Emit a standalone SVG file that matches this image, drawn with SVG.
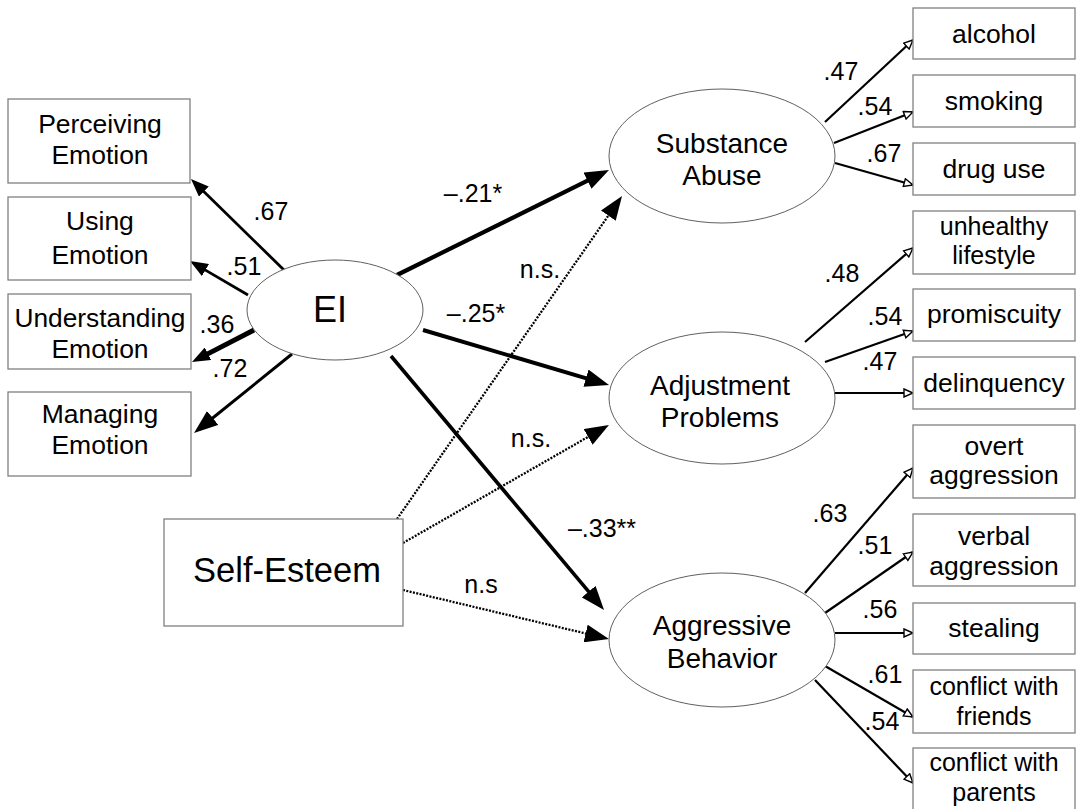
<svg xmlns="http://www.w3.org/2000/svg" width="1076" height="809" viewBox="0 0 1076 809">
<style>
text{font-family:"Liberation Sans",Arial,sans-serif;fill:#000;text-anchor:middle}
.box{fill:#fff;stroke:#808080;stroke-width:1.3}
.ell{fill:#fff;stroke:#606060;stroke-width:1}
.t{font-size:26.5px}
.t2{font-size:25px}
.lat{font-size:28px}
.lbl{font-size:25px}
.c{fill:none;stroke:#000}
.thin{stroke-width:2.2}
.dot{stroke-width:2.3;stroke-dasharray:2 1.4}
</style>
<defs>
<marker id="big" markerUnits="userSpaceOnUse" markerWidth="24" markerHeight="18" refX="4" refY="9" orient="auto" viewBox="0 0 24 18"><path d="M0,0 L24,9 L0,18 z" fill="#000"/></marker>
<marker id="med" markerUnits="userSpaceOnUse" markerWidth="18" markerHeight="14" refX="3" refY="7" orient="auto" viewBox="0 0 18 14"><path d="M0,0 L18,7 L0,14 z" fill="#000"/></marker>
<marker id="sm" markerUnits="userSpaceOnUse" markerWidth="12" markerHeight="10" refX="10" refY="5" orient="auto" viewBox="0 0 12 10"><path d="M1,1 L10,5 L1,9 z" fill="#fff" stroke="#000" stroke-width="1.4"/></marker>
</defs>
<rect width="1076" height="809" fill="#fff"/>
<g id="connectors">
<line class="c" x1="284" y1="270" x2="201.7" y2="189.5" stroke-width="2.8" marker-end="url(#med)"/>
<line class="c" x1="248" y1="295" x2="202.9" y2="268.6" stroke-width="2.8" marker-end="url(#med)"/>
<line class="c" x1="254" y1="330" x2="205.3" y2="355.1" stroke-width="5" marker-end="url(#med)"/>
<line class="c" x1="292" y1="354" x2="209.6" y2="420.5" stroke-width="3" marker-end="url(#big)"/>
<line class="c" x1="397" y1="275" x2="591.1" y2="178.9" stroke-width="4.2" marker-end="url(#big)"/>
<line class="c dot" x1="397" y1="519" x2="610.6" y2="212.4" marker-end="url(#big)"/>
<line class="c" x1="423" y1="330" x2="589.8" y2="379.3" stroke-width="4" marker-end="url(#big)"/>
<line class="c dot" x1="403" y1="543" x2="591.6" y2="434.9" marker-end="url(#big)"/>
<line class="c" x1="391" y1="356" x2="591.2" y2="594.7" stroke-width="3.6" marker-end="url(#big)"/>
<line class="c dot" x1="403" y1="590" x2="589.5" y2="634.4" marker-end="url(#big)"/>
<line class="c thin" x1="825" y1="122" x2="913" y2="40" marker-end="url(#sm)"/>
<line class="c thin" x1="834" y1="143" x2="913" y2="112" marker-end="url(#sm)"/>
<line class="c thin" x1="835" y1="163" x2="913" y2="185" marker-end="url(#sm)"/>
<line class="c thin" x1="805" y1="342" x2="913" y2="248" marker-end="url(#sm)"/>
<line class="c thin" x1="825" y1="362" x2="913" y2="331" marker-end="url(#sm)"/>
<line class="c thin" x1="834" y1="393" x2="913" y2="393" marker-end="url(#sm)"/>
<line class="c thin" x1="805" y1="593" x2="913" y2="468" marker-end="url(#sm)"/>
<line class="c thin" x1="825" y1="613" x2="913" y2="552" marker-end="url(#sm)"/>
<line class="c thin" x1="835" y1="633" x2="913" y2="633" marker-end="url(#sm)"/>
<line class="c thin" x1="825" y1="666" x2="913" y2="717" marker-end="url(#sm)"/>
<line class="c thin" x1="815" y1="680" x2="913" y2="783" marker-end="url(#sm)"/>
<g>
<text class="lbl" x="271" y="220">.67</text>
<text class="lbl" x="244" y="275">.51</text>
<text class="lbl" x="217" y="333">.36</text>
<text class="lbl" x="230" y="377">.72</text>
<text class="lbl" x="473" y="202">–.21*</text>
<text class="lbl" x="540" y="278">n.s.</text>
<text class="lbl" x="476" y="322">–.25*</text>
<text class="lbl" x="531" y="447">n.s.</text>
<text class="lbl" x="602" y="537">–.33**</text>
<text class="lbl" x="481" y="593">n.s</text>
<text class="lbl" x="841" y="80">.47</text>
<text class="lbl" x="875" y="115">.54</text>
<text class="lbl" x="884" y="162">.67</text>
<text class="lbl" x="842" y="282">.48</text>
<text class="lbl" x="885" y="325">.54</text>
<text class="lbl" x="880" y="370">.47</text>
<text class="lbl" x="830" y="522">.63</text>
<text class="lbl" x="875" y="554">.51</text>
<text class="lbl" x="880" y="618">.56</text>
<text class="lbl" x="885" y="683">.61</text>
<text class="lbl" x="882" y="730">.54</text>
</g>
</g>
<g id="perceiving"><rect class="box" x="8" y="99" width="182" height="84"/><text class="t" x="100" y="133">Perceiving</text><text class="t" x="100" y="164">Emotion</text></g>
<g id="using"><rect class="box" x="8" y="197" width="183" height="83"/><text class="t" x="100" y="230">Using</text><text class="t" x="100" y="264">Emotion</text></g>
<g id="understanding"><rect class="box" x="8" y="294" width="183" height="75"/><text class="t" x="100" y="327" textLength="171" lengthAdjust="spacingAndGlyphs">Understanding</text><text class="t" x="100" y="358">Emotion</text></g>
<g id="managing"><rect class="box" x="8" y="392" width="183" height="84"/><text class="t" x="100" y="423">Managing</text><text class="t" x="100" y="454">Emotion</text></g>
<g id="ei"><ellipse class="ell" cx="335" cy="310" rx="88" ry="50"/><text x="330" y="322" font-size="36">EI</text></g>
<g id="selfesteem"><rect class="box" x="164" y="519" width="239" height="107"/><text x="287" y="582" font-size="34.5">Self-Esteem</text></g>
<g id="substance"><ellipse class="ell" cx="722" cy="156" rx="113" ry="67"/><text class="lat" x="722" y="153">Substance</text><text class="lat" x="722" y="185">Abuse</text></g>
<g id="adjustment"><ellipse class="ell" cx="722" cy="398" rx="113" ry="66"/><text class="lat" x="720" y="395">Adjustment</text><text class="lat" x="720" y="427">Problems</text></g>
<g id="aggressive"><ellipse class="ell" cx="722" cy="640" rx="113" ry="67"/><text class="lat" x="722" y="635">Aggressive</text><text class="lat" x="722" y="668">Behavior</text></g>
<g id="alcohol"><rect class="box" x="913" y="8" width="162" height="51"/><text class="t" x="994" y="43">alcohol</text></g>
<g id="smoking"><rect class="box" x="913" y="75" width="162" height="52"/><text class="t" x="994" y="110">smoking</text></g>
<g id="druguse"><rect class="box" x="913" y="143" width="162" height="52"/><text class="t" x="994" y="178">drug use</text></g>
<g id="unhealthy"><rect class="box" x="913" y="211" width="162" height="63"/><text class="t2" x="994" y="235">unhealthy</text><text class="t2" x="994" y="264">lifestyle</text></g>
<g id="promiscuity"><rect class="box" x="913" y="289" width="162" height="52"/><text class="t" x="994" y="323">promiscuity</text></g>
<g id="delinquency"><rect class="box" x="913" y="357" width="162" height="52"/><text class="t" x="994" y="392">delinquency</text></g>
<g id="overt"><rect class="box" x="913" y="425" width="162" height="73"/><text class="t" x="994" y="455">overt</text><text class="t" x="994" y="484">aggression</text></g>
<g id="verbal"><rect class="box" x="913" y="514" width="162" height="72"/><text class="t" x="994" y="545">verbal</text><text class="t" x="994" y="575">aggression</text></g>
<g id="stealing"><rect class="box" x="913" y="603" width="162" height="51"/><text class="t" x="994" y="637">stealing</text></g>
<g id="friends"><rect class="box" x="913" y="670" width="162" height="63"/><text class="t2" x="994" y="695">conflict with</text><text class="t2" x="994" y="725">friends</text></g>
<g id="parents"><rect class="box" x="913" y="748" width="162" height="66"/><text class="t2" x="994" y="771">conflict with</text><text class="t2" x="994" y="801">parents</text></g>
</svg>
